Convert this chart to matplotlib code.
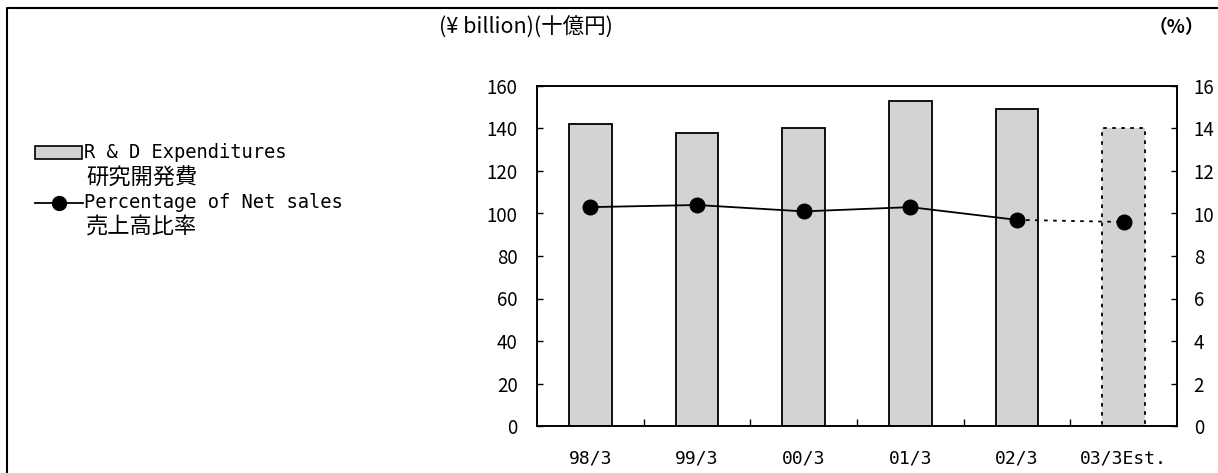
import numpy as np
import matplotlib
matplotlib.use('Agg')
import matplotlib.pyplot as plt
from matplotlib.patches import Rectangle
from matplotlib.lines import Line2D

plt.rcParams['font.family'] = ['Noto Sans CJK JP', 'DejaVu Sans']

periods = ['98/3', '99/3', '00/3', '01/3', '02/3', '03/3Est.']
rd_expenditures = [142, 138, 140, 153, 149, 140]   # billion yen
pct_net_sales = [10.3, 10.4, 10.1, 10.3, 9.7, 9.6]  # %

bar_color = '#d3d3d3'
mono = ['DejaVu Sans Mono', 'Noto Sans CJK JP']

W, H = 1218, 473
fig = plt.figure(figsize=(W / 100, H / 100), dpi=100)
ax = fig.add_axes([537/W, 47/H, 640/W, 340/H])
ax2 = ax.twinx()

x = np.arange(len(periods))
n = len(periods)

# actual years solid, estimate dotted
ax.bar(x[:-1], rd_expenditures[:-1], width=0.4, color=bar_color,
       edgecolor='black', linewidth=1.3, zorder=2)
ax.bar(x[-1:], rd_expenditures[-1:], width=0.4, color=bar_color,
       edgecolor='black', linewidth=1.3, linestyle=(0, (2, 3)), zorder=2)

ax2.plot(x[:-1], pct_net_sales[:-1], color='black', linewidth=1.3,
         marker='o', markersize=10.5, zorder=3)
ax2.plot(x[-2:], pct_net_sales[-2:], color='black', linewidth=1.3,
         linestyle=(0, (2, 3)), zorder=3)
ax2.plot(x[-1:], pct_net_sales[-1:], color='black', marker='o',
         markersize=10.5, linestyle='none', zorder=3)

ax.set_xlim(-0.5, n - 0.5)
ax.set_ylim(0, 160)
ax2.set_ylim(0, 16)
ax.set_yticks(np.arange(0, 161, 20))
ax2.set_yticks(np.arange(0, 17, 2))
ax.set_xticks(x)
ax.set_xticklabels(periods, family=mono)
ax.set_xticks(np.arange(0.5, n - 0.5, 1), minor=True)

ax.tick_params(axis='x', which='major', length=0, pad=17, labelsize=13)
ax.tick_params(axis='x', which='minor', direction='in', length=5, width=1)
ax.tick_params(axis='y', direction='in', length=4, width=1, pad=14, labelsize=13.5)
ax2.tick_params(axis='y', direction='in', length=4, width=1, pad=12, labelsize=13.5)

for a in (ax, ax2):
    for s in a.spines.values():
        s.set_linewidth(1.2)

fig.text(613/W, 1 - 28/H, '(¥ billion)(十億円)', ha='right', va='center', fontsize=15.5)
fig.text(1204/W, 1 - 28/H, '（%）', ha='right', va='center', fontsize=13.5, fontweight='bold')

# legend
fig.add_artist(Rectangle((35/W, 1 - 159/H), 47/W, 13/H, transform=fig.transFigure,
                         facecolor=bar_color, edgecolor='black', linewidth=1.2))
fig.add_artist(Line2D([35/W, 83/W], [1 - 203/H, 1 - 203/H], transform=fig.transFigure,
                      color='black', linewidth=1.3))
fig.add_artist(Line2D([59/W], [1 - 203/H], transform=fig.transFigure,
                      color='black', marker='o', markersize=10, linestyle='none'))
fig.text(84/W, 1 - 152/H, 'R & D Expenditures', family=mono, fontsize=13.5, va='center')
fig.text(86/W, 1 - 178/H, '研究開発費', family=mono, fontsize=16, va='center')
fig.text(84/W, 1 - 203/H, 'Percentage of Net sales', family=mono, fontsize=13.5, va='center')
fig.text(86/W, 1 - 227/H, '売上高比率', family=mono, fontsize=16, va='center')

# outer frame (top and left edges)
fig.add_artist(Line2D([7/W, 7/W, 1], [0, 1 - 8/H, 1 - 8/H], transform=fig.transFigure,
                      color='black', linewidth=1.5))

fig.savefig('out.png', dpi=100)
